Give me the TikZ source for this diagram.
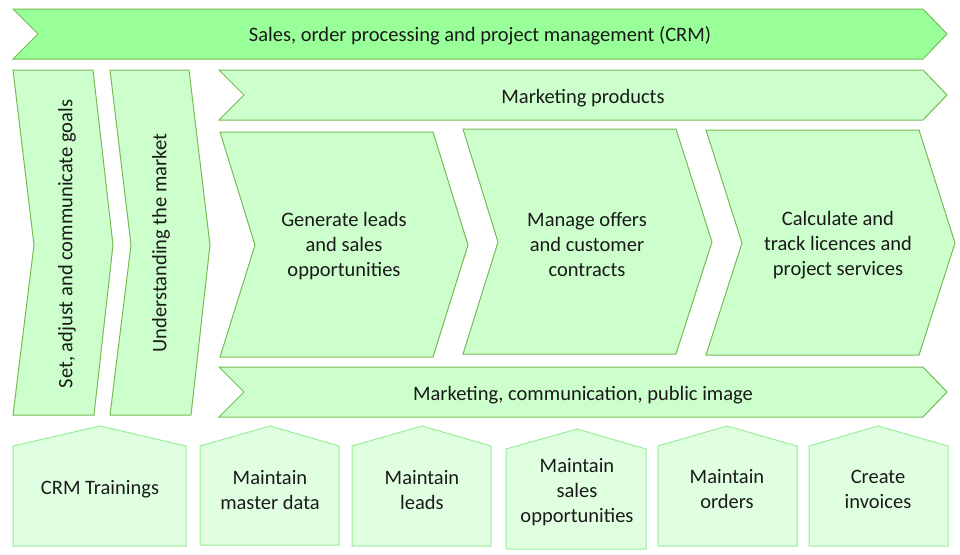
\documentclass[tikz,border=0pt]{standalone}
\usepackage{fontspec}
\setmainfont{Carlito}
\definecolor{strongfill}{HTML}{99FF99}
\definecolor{lightfill}{HTML}{CCFFCC}
\definecolor{palefill}{HTML}{E0FFE0}
\definecolor{edge}{HTML}{77BB55}
\definecolor{paleedge}{HTML}{99EE99}
\definecolor{ink}{HTML}{1A1A1A}
\begin{document}
\begin{tikzpicture}[x=1pt,y=-1pt,
  shapeline/.style={draw=edge, line width=1pt, line join=miter},
  strongshape/.style={shapeline, fill=strongfill},
  lightshape/.style={shapeline, fill=lightfill},
  houseshape/.style={draw=paleedge, line width=1pt, fill=palefill},
  label/.style={font=\fontsize{20.5}{25}\selectfont, text=ink, align=center, inner sep=0pt}]
\useasboundingbox (0,0) rectangle (960,554);
% top banner
\draw[strongshape] (13,9) -- (923,9) -- (947,34) -- (923,59) -- (13,59) -- (38,34) -- cycle;
\node[label] (crm) at (480,36) {Sales, order processing and project management (CRM)};
% marketing products
\draw[lightshape] (219,70) -- (923,70) -- (947,95) -- (923,120) -- (219,120) -- (244,95) -- cycle;
\node[label] (mprod) at (583,98) {Marketing products};
% left columns
\draw[lightshape] (13,70) -- (93,70) -- (113,245) -- (94,415) -- (13,415) -- (34,245) -- cycle;
\node[label, rotate=90] (goals) at (67,244) {Set, adjust and communicate goals};
\draw[lightshape] (110,70) -- (189,70) -- (210,245) -- (191,415) -- (110,415) -- (131,245) -- cycle;
\node[label, rotate=90] (market) at (161,243) {Understanding the market};
% main chevrons
\draw[lightshape] (220,132) -- (433,132) -- (468,245) -- (433,357) -- (220,357) -- (255,245) -- cycle;
\node[label] (leads) at (344,246) {Generate leads\\and sales\\opportunities};
\draw[lightshape] (463,129) -- (676,129) -- (712,242) -- (676,354) -- (463,354) -- (498,242) -- cycle;
\node[label] (offers) at (587,244) {Manage offers\\and customer\\contracts};
\draw[lightshape] (706,130) -- (919,130) -- (955,243) -- (919,355) -- (706,355) -- (742,243) -- cycle;
\node[label] (licences) at (838,245) {Calculate and\\track licences and\\project services};
% marketing communication
\draw[lightshape] (219,367) -- (923,367) -- (947,392) -- (923,417) -- (219,417) -- (244,392) -- cycle;
\node[label] (mcomm) at (583,395) {Marketing, communication, public image};
% houses
\draw[houseshape] (13,446) -- (100,426) -- (186,446) -- (186,546) -- (13,546) -- cycle;
\node[label] (train) at (100,489) {CRM Trainings};
\draw[houseshape] (200,446) -- (270,426) -- (339,446) -- (339,545) -- (200,545) -- cycle;
\node[label] (master) at (270,490) {Maintain\\master data};
\draw[houseshape] (352,446) -- (422,426) -- (491,446) -- (491,546) -- (352,546) -- cycle;
\node[label] (mleads) at (422,490) {Maintain\\leads};
\draw[houseshape] (506,449) -- (577,429) -- (646,449) -- (646,549) -- (506,549) -- cycle;
\node[label] (mopps) at (577,492) {Maintain\\sales\\opportunities};
\draw[houseshape] (658,446) -- (727,426) -- (797,446) -- (797,546) -- (658,546) -- cycle;
\node[label] (orders) at (727,489) {Maintain\\orders};
\draw[houseshape] (809,446) -- (878,426) -- (948,446) -- (948,546) -- (809,546) -- cycle;
\node[label] (invoices) at (878,489) {Create\\invoices};
\end{tikzpicture}
\end{document}
